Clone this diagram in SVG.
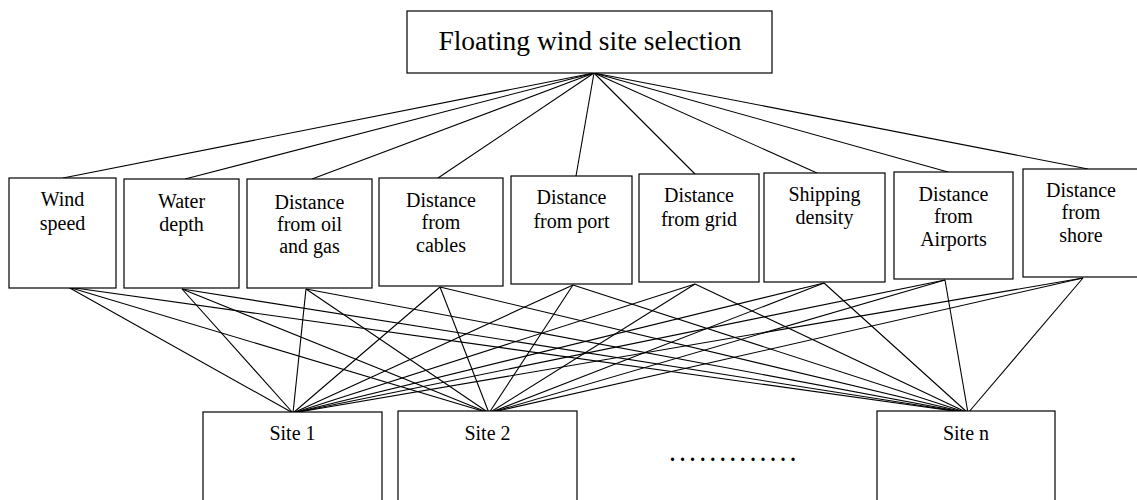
<svg xmlns="http://www.w3.org/2000/svg" width="1137" height="500" viewBox="0 0 1137 500">
<style>
  .box { fill: #fff; stroke: #000; stroke-width: 1.2; }
  .t { font-family: "Liberation Serif", "Times New Roman", serif; font-size: 20px; fill: #000; text-anchor: middle; }
  .title { font-size: 27.5px; }
  .c line { stroke: #000; stroke-width: 1.1; }
</style>
<rect width="1137" height="500" fill="#fff"/>
<g class="c" id="connectors">
  <line x1="594" y1="73" x2="63" y2="178"/>
  <line x1="594" y1="73" x2="185" y2="179"/>
  <line x1="594" y1="73" x2="312" y2="179"/>
  <line x1="594" y1="73" x2="438" y2="178"/>
  <line x1="594" y1="73" x2="576" y2="176"/>
  <line x1="594" y1="73" x2="695" y2="174"/>
  <line x1="594" y1="73" x2="817" y2="173"/>
  <line x1="594" y1="73" x2="948" y2="172"/>
  <line x1="594" y1="73" x2="1088" y2="169"/>

  <line x1="68" y1="287" x2="293" y2="413"/>
  <line x1="68" y1="287" x2="489" y2="413"/>
  <line x1="68" y1="287" x2="968" y2="413"/>
  <line x1="182" y1="289" x2="293" y2="413"/>
  <line x1="182" y1="289" x2="489" y2="413"/>
  <line x1="182" y1="289" x2="968" y2="413"/>
  <line x1="306" y1="289" x2="293" y2="413"/>
  <line x1="306" y1="289" x2="489" y2="413"/>
  <line x1="306" y1="289" x2="968" y2="413"/>
  <line x1="440" y1="287" x2="293" y2="413"/>
  <line x1="440" y1="287" x2="489" y2="413"/>
  <line x1="440" y1="287" x2="968" y2="413"/>
  <line x1="573" y1="285" x2="293" y2="413"/>
  <line x1="573" y1="285" x2="489" y2="413"/>
  <line x1="573" y1="285" x2="968" y2="413"/>
  <line x1="695" y1="284" x2="293" y2="413"/>
  <line x1="695" y1="284" x2="489" y2="413"/>
  <line x1="695" y1="284" x2="968" y2="413"/>
  <line x1="824" y1="283" x2="293" y2="413"/>
  <line x1="824" y1="283" x2="489" y2="413"/>
  <line x1="824" y1="283" x2="968" y2="413"/>
  <line x1="945" y1="280" x2="293" y2="413"/>
  <line x1="945" y1="280" x2="489" y2="413"/>
  <line x1="945" y1="280" x2="968" y2="413"/>
  <line x1="1083" y1="278" x2="293" y2="413"/>
  <line x1="1083" y1="278" x2="489" y2="413"/>
  <line x1="1083" y1="278" x2="968" y2="413"/>
</g>
<g id="goal">
  <rect class="box" x="407" y="11" width="365" height="62"/>
  <text class="t title" x="590" y="50">Floating wind site selection</text>
</g>
<g id="c1">
  <rect class="box" x="9" y="178" width="107" height="110"/>
  <text class="t" x="62.5" y="206">Wind</text>
  <text class="t" x="62.5" y="230">speed</text>
</g>
<g id="c2">
  <rect class="box" x="124" y="179" width="115" height="109"/>
  <text class="t" x="181.5" y="208">Water</text>
  <text class="t" x="181.5" y="231">depth</text>
</g>
<g id="c3">
  <rect class="box" x="247" y="179" width="125" height="109"/>
  <text class="t" x="309.5" y="209">Distance</text>
  <text class="t" x="309.5" y="231">from oil</text>
  <text class="t" x="309.5" y="253">and gas</text>
</g>
<g id="c4">
  <rect class="box" x="379" y="178" width="124" height="108"/>
  <text class="t" x="441" y="207">Distance</text>
  <text class="t" x="441" y="229">from</text>
  <text class="t" x="441" y="252">cables</text>
</g>
<g id="c5">
  <rect class="box" x="511" y="176" width="121" height="108"/>
  <text class="t" x="571.5" y="204">Distance</text>
  <text class="t" x="571.5" y="228">from port</text>
</g>
<g id="c6">
  <rect class="box" x="639" y="174" width="120" height="108"/>
  <text class="t" x="699" y="202">Distance</text>
  <text class="t" x="699" y="226">from grid</text>
</g>
<g id="c7">
  <rect class="box" x="764" y="173" width="121" height="109"/>
  <text class="t" x="824.5" y="201">Shipping</text>
  <text class="t" x="824.5" y="224">density</text>
</g>
<g id="c8">
  <rect class="box" x="894" y="172" width="119" height="107"/>
  <text class="t" x="953.5" y="201">Distance</text>
  <text class="t" x="953.5" y="223">from</text>
  <text class="t" x="953.5" y="246">Airports</text>
</g>
<g id="c9">
  <rect class="box" x="1023" y="169" width="116" height="108"/>
  <text class="t" x="1081" y="197">Distance</text>
  <text class="t" x="1081" y="219">from</text>
  <text class="t" x="1081" y="242">shore</text>
</g>
<g id="s1">
  <rect class="box" x="203" y="412" width="179" height="100"/>
  <text class="t" x="292.5" y="440">Site 1</text>
</g>
<g id="s2">
  <rect class="box" x="398" y="411" width="179" height="100"/>
  <text class="t" x="487.5" y="440">Site 2</text>
</g>
<g id="sn">
  <rect class="box" x="877" y="411" width="178" height="100"/>
  <text class="t" x="966" y="440">Site n</text>
</g>
<text x="670" y="461" style="font-family: 'Liberation Serif', serif; font-size: 20px; font-weight: bold; letter-spacing: 5.05px;">.............</text>
</svg>
